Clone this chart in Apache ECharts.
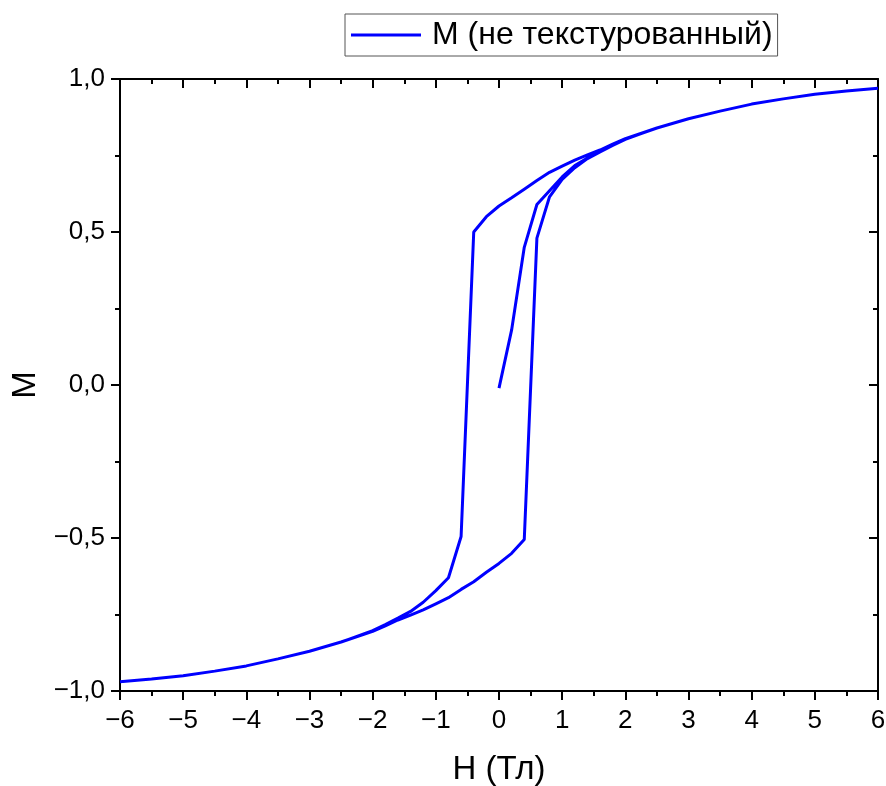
<!DOCTYPE html>
<html>
<head>
<meta charset="utf-8">
<script src="https://cdn.jsdelivr.net/npm/echarts@6/dist/echarts.min.js"></script>
<style>
  html, body { margin: 0; padding: 0; background: #fff; }
  #chart { width: 886px; height: 786px; }
</style>
</head>
<body>
<div id="chart"></div>
<script>
// initial magnetisation curve, H (Тл) and M
var initH = [0, 0.2, 0.4, 0.6, 0.8, 1.0, 1.2, 1.4, 1.6, 1.8, 2.0, 2.5, 3, 3.5, 4, 4.5, 5, 5.5, 6];
var initM = [-0.01, 0.18, 0.45, 0.59, 0.635, 0.68, 0.717, 0.742, 0.764, 0.784, 0.804, 0.84, 0.87, 0.895, 0.918, 0.935, 0.95, 0.961, 0.97];

// descending branch, from +6 down to -6
var downH = [6, 5.5, 5, 4.5, 4, 3.5, 3, 2.5, 2.0, 1.8, 1.6, 1.4, 1.2, 1.0, 0.8, 0.6, 0.4, 0.2, 0, -0.2, -0.4, -0.6, -0.8, -1.0, -1.2, -1.4, -1.6, -1.8, -2.0, -2.5, -3, -3.5, -4, -4.5, -5, -5.5, -6];
var downM = [0.97, 0.961, 0.95, 0.935, 0.918, 0.895, 0.87, 0.84, 0.805, 0.787, 0.768, 0.752, 0.735, 0.715, 0.695, 0.668, 0.64, 0.612, 0.585, 0.55, 0.50, -0.495, -0.63, -0.672, -0.71, -0.74, -0.762, -0.783, -0.803, -0.84, -0.87, -0.895, -0.918, -0.935, -0.95, -0.961, -0.97];

// ascending branch, from -6 back to +6
var upH = [-6, -5.5, -5, -4.5, -4, -3.5, -3, -2.5, -2.0, -1.8, -1.6, -1.4, -1.2, -1.0, -0.8, -0.6, -0.4, -0.2, 0, 0.2, 0.4, 0.6, 0.8, 1.0, 1.2, 1.4, 1.6, 1.8, 2.0, 2.5, 3, 3.5, 4, 4.5, 5, 5.5, 6];
var upM = [-0.97, -0.961, -0.95, -0.935, -0.918, -0.895, -0.87, -0.84, -0.805, -0.787, -0.768, -0.752, -0.735, -0.715, -0.695, -0.668, -0.643, -0.612, -0.583, -0.55, -0.505, 0.48, 0.615, 0.672, 0.71, 0.74, 0.762, 0.783, 0.803, 0.84, 0.87, 0.895, 0.918, 0.935, 0.95, 0.961, 0.97];

var seriesName = 'M (не текстурованный)';

var loop = [];
function addBranch(hs, ms) {
  for (var i = 0; i < hs.length; i++) {
    loop.push([hs[i], ms[i]]);
  }
}
addBranch(initH, initM);
addBranch(downH, downM);
addBranch(upH, upM);

var font = 'Liberation Sans, Arial, sans-serif';

function fmtNum(v, digits) {
  var s = digits ? v.toFixed(digits) : String(v);
  return s.replace('.', ',').replace('-', '\u2212');
}

var myChart = echarts.init(document.getElementById('chart'));

var option = {
  backgroundColor: '#fff',
  animation: false,
  legend: {
    left: 345,
    top: 14,
    padding: [5, 5, 5, 6],
    borderColor: '#555',
    borderWidth: 1,
    icon: 'rect',
    itemWidth: 70,
    itemHeight: 3,
    textStyle: { fontFamily: font, fontSize: 32, color: '#000', padding: [0, 0, 0, 6] },
    data: [seriesName]
  },
  grid: { left: 120, right: 8, top: 79, bottom: 95, outerBoundsMode: 'none' },
  xAxis: [
    {
      type: 'value',
      min: -6, max: 6, interval: 1,
      name: 'H (Тл)',
      nameLocation: 'middle',
      nameGap: 62,
      nameTextStyle: { fontFamily: font, fontSize: 33, color: '#000' },
      axisLine: { onZero: false, lineStyle: { color: '#000', width: 2 } },
      axisTick: { length: 9, lineStyle: { color: '#000', width: 2 } },
      minorTick: { show: true, splitNumber: 2, length: 5, lineStyle: { color: '#000', width: 2 } },
      splitLine: { show: false },
      axisLabel: { fontFamily: font, fontSize: 26, color: '#000', margin: 17, formatter: function (v) { return fmtNum(v, 0); } }
    },
    {
      type: 'value', position: 'top',
      min: -6, max: 6, interval: 1,
      axisLine: { onZero: false, lineStyle: { color: '#000', width: 2 } },
      axisTick: { inside: true, length: 9, lineStyle: { color: '#000', width: 2 } },
      minorTick: { show: true, splitNumber: 2, length: 5, lineStyle: { color: '#000', width: 2 } },
      splitLine: { show: false },
      axisLabel: { show: false }
    }
  ],
  yAxis: [
    {
      type: 'value',
      min: -1, max: 1, interval: 0.5,
      name: 'M',
      nameLocation: 'middle',
      nameGap: 78,
      nameTextStyle: { fontFamily: font, fontSize: 33, color: '#000' },
      axisLine: { onZero: false, lineStyle: { color: '#000', width: 2 } },
      axisTick: { length: 9, lineStyle: { color: '#000', width: 2 } },
      minorTick: { show: true, splitNumber: 2, length: 5, lineStyle: { color: '#000', width: 2 } },
      splitLine: { show: false },
      axisLabel: { fontFamily: font, fontSize: 26, color: '#000', margin: 15, formatter: function (v) { return fmtNum(v, 1); } }
    },
    {
      type: 'value', position: 'right',
      min: -1, max: 1, interval: 0.5,
      axisLine: { onZero: false, lineStyle: { color: '#000', width: 2 } },
      axisTick: { inside: true, length: 9, lineStyle: { color: '#000', width: 2 } },
      minorTick: { show: true, splitNumber: 2, length: 5, lineStyle: { color: '#000', width: 2 } },
      splitLine: { show: false },
      axisLabel: { show: false }
    }
  ],
  series: [
    {
      name: seriesName,
      type: 'line',
      data: loop,
      symbol: 'none',
      color: '#0000ff',
      lineStyle: { color: '#0000ff', width: 3 }
    }
  ]
};

myChart.setOption(option);
</script>
</body>
</html>
